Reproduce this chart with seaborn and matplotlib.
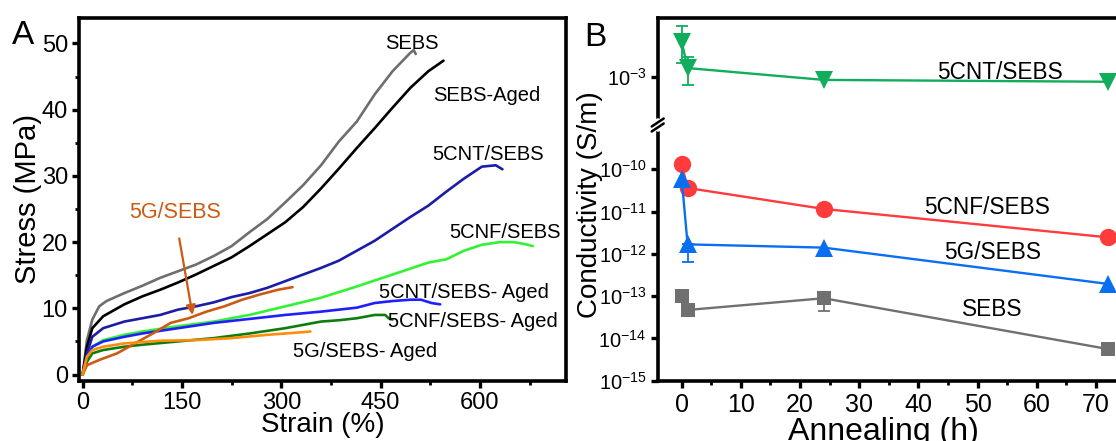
import numpy as np
import pandas as pd
import matplotlib
matplotlib.use("Agg")
import matplotlib.pyplot as plt
import seaborn as sns
from matplotlib.ticker import MultipleLocator, FixedLocator, NullLocator
from matplotlib.lines import Line2D

sns.set_theme(style="ticks")
plt.rcParams["font.family"] = ["Liberation Sans", "DejaVu Sans"]
plt.rcParams["mathtext.fontset"] = "custom"
plt.rcParams["mathtext.rm"] = "Liberation Sans"
plt.rcParams["mathtext.it"] = "Liberation Sans:italic"
plt.rcParams["mathtext.bf"] = "Liberation Sans:bold"
for key in ("text.color", "axes.labelcolor", "xtick.color", "ytick.color", "axes.edgecolor"):
    plt.rcParams[key] = "black"

# ---------------- Panel A: stress-strain curves ----------------
sebs_strain = [0, 6.5, 14.6, 25, 36, 63, 90, 117, 144, 171, 198, 225, 252, 279, 306, 333, 360, 387, 414, 441, 468, 495, 500, 503]
sebs_stress = [0, 5.2, 8.3, 10.3, 11.1, 12.3, 13.4, 14.6, 15.6, 16.6, 17.9, 19.4, 21.5, 23.5, 26.0, 28.6, 31.6, 35.2, 38.2, 42.3, 45.8, 48.6, 49.0, 48.4]

sebs_aged_strain = [0, 6.5, 14.6, 31, 63, 90, 117, 144, 171, 198, 225, 252, 279, 306, 333, 360, 387, 414, 441, 468, 495, 522, 545]
sebs_aged_stress = [0, 4.2, 7.0, 8.8, 10.6, 11.8, 12.8, 13.9, 15.1, 16.4, 17.7, 19.4, 21.2, 23.0, 25.3, 28.1, 31.1, 34.2, 37.2, 40.3, 43.3, 45.8, 47.4]

cnt_strain = [0, 6.5, 14.6, 31, 63, 90, 117, 144, 171, 198, 225, 252, 279, 306, 333, 360, 387, 414, 441, 468, 495, 522, 549, 576, 603, 624, 634]
cnt_stress = [0, 3.2, 5.7, 7.0, 8.0, 8.5, 9.0, 9.8, 10.3, 10.9, 11.7, 12.3, 13.1, 14.1, 15.1, 16.1, 17.2, 18.7, 20.2, 22.0, 23.8, 25.5, 27.6, 29.6, 31.4, 31.6, 31.0]

cnf_strain = [0, 6.5, 14.6, 31, 63, 90, 144, 198, 252, 306, 360, 414, 468, 522, 549, 576, 603, 630, 651, 668, 680]
cnf_stress = [0, 2.4, 4.2, 5.2, 6.0, 6.5, 7.3, 8.0, 9.0, 10.3, 11.6, 13.3, 15.1, 16.9, 17.4, 18.7, 19.6, 20.0, 20.0, 19.7, 19.4]

cnt_aged_strain = [0, 6.5, 14.6, 31, 63, 90, 144, 198, 252, 306, 360, 414, 441, 468, 495, 511, 527, 540]
cnt_aged_stress = [0, 2.7, 4.2, 5.0, 5.7, 6.2, 7.0, 7.8, 8.4, 9.0, 9.5, 10.1, 10.8, 11.1, 11.3, 11.3, 10.8, 10.6]

cnf_aged_strain = [0, 6.5, 14.6, 31, 63, 90, 144, 198, 252, 306, 360, 387, 414, 441, 457, 462, 468]
cnf_aged_stress = [0, 1.9, 3.2, 3.7, 4.2, 4.5, 5.0, 5.5, 6.2, 7.0, 8.0, 8.2, 8.5, 9.0, 9.0, 8.5, 8.3]

g_strain = [0, 6.5, 25, 52, 79, 106, 133, 160, 187, 214, 241, 268, 295, 317]
g_stress = [0, 1.4, 2.2, 3.2, 4.7, 6.2, 7.8, 8.5, 9.5, 10.3, 11.3, 12.1, 12.8, 13.2]

g_aged_strain = [0, 6.5, 14.6, 31, 63, 117, 171, 225, 279, 333, 344]
g_aged_stress = [0, 2.7, 3.7, 4.2, 4.7, 5.1, 5.2, 5.5, 6.0, 6.4, 6.5]

curves = [
    ("SEBS", sebs_strain, sebs_stress, "#6e6e6e"),
    ("SEBS-Aged", sebs_aged_strain, sebs_aged_stress, "#000000"),
    ("5CNT/SEBS", cnt_strain, cnt_stress, "#1c1ca6"),
    ("5CNF/SEBS", cnf_strain, cnf_stress, "#33f233"),
    ("5CNT/SEBS- Aged", cnt_aged_strain, cnt_aged_stress, "#1f1fff"),
    ("5CNF/SEBS- Aged", cnf_aged_strain, cnf_aged_stress, "#0e7d0e"),
    ("5G/SEBS", g_strain, g_stress, "#cc5a14"),
    ("5G/SEBS- Aged", g_aged_strain, g_aged_stress, "#ff8c0a"),
]

# label positions (strain, stress) for the curve names
label_pos = {
    "SEBS": (498, 50.0),
    "SEBS-Aged": (610, 42.2),
    "5CNT/SEBS": (612, 33.2),
    "5CNF/SEBS": (638, 21.5),
    "5CNT/SEBS- Aged": (576, 12.4),
    "5CNF/SEBS- Aged": (590, 8.0),
    "5G/SEBS- Aged": (426, 3.5),
}

# ---------------- Panel B: conductivity vs annealing ----------------
anneal_h = [0, 1, 24, 72]
cond_cnt = [6.7e-3, 1.6e-3, 8.4e-4, 7.6e-4]
cond_cnf = [1.3e-10, 3.6e-11, 1.15e-11, 2.45e-12]
cond_g = [6.0e-11, 1.67e-12, 1.4e-12, 1.94e-13]
cond_sebs = [1.0e-13, 4.7e-14, 8.9e-14, 5.6e-15]
# error bar extents (low, high) per point; None where no bar is drawn
err_cnt = [(2.1e-3, 1.58e-2), (6.4e-4, 3.0e-3), None, None]
err_g = [None, (6.5e-13, 1.67e-12), None, None]
err_sebs = [None, None, (4.5e-14, 8.9e-14), None]

W, H = 1116, 441
fig = plt.figure(figsize=(W / 100, H / 100), dpi=100)

def frac(x0, y0, x1, y1):
    return [x0 / W, (H - y1) / H, (x1 - x0) / W, (y1 - y0) / H]

spine_w = 2.6

axA = fig.add_axes(frac(79, 18.3, 566, 380.5))
for name, xs, ys, col in curves:
    df = pd.DataFrame({"strain": xs, "stress": ys})
    sns.lineplot(data=df, x="strain", y="stress", sort=False, color=col,
                 linewidth=1.9, ax=axA, estimator=None)
axA.set_xlim(-5.5, 730)
axA.set_ylim(-0.9, 53.8)
axA.xaxis.set_major_locator(MultipleLocator(150))
axA.xaxis.set_minor_locator(MultipleLocator(75))
axA.yaxis.set_major_locator(MultipleLocator(10))
axA.yaxis.set_minor_locator(MultipleLocator(5))
axA.tick_params(which="major", direction="out", length=5, width=2.4, labelsize=17, pad=3)
axA.tick_params(which="minor", direction="out", length=3, width=2.0)
for s in axA.spines.values():
    s.set_linewidth(spine_w)
axA.set_xlabel("Strain (%)", fontsize=20, labelpad=-1)
axA.set_ylabel("Stress (MPa)", fontsize=21, labelpad=0)

for name, (sx, sy) in label_pos.items():
    axA.text(sx, sy, name, fontsize=14.5, ha="center", va="center")
axA.annotate("5G/SEBS", xy=(166, 9.0), xytext=(139, 24.5), fontsize=15.5,
             color="#cc5a14", ha="center", va="center",
             arrowprops=dict(arrowstyle="-|>", color="#cc5a14", lw=1.6,
                             mutation_scale=14, shrinkA=9, shrinkB=0))
fig.text(23 / W, 1 - 36 / H, "A", fontsize=24, ha="center", va="center")

# Panel B split into a lower and an upper log axis with a break between them
break_y = 125
axL = fig.add_axes(frac(657.7, break_y, 657.7 + 80 * 5.92, 380.7))
axU = fig.add_axes(frac(657.7, 18.3, 657.7 + 80 * 5.92, break_y))

series_b = [
    (cond_cnt, "v", "#10ad5c", 13, err_cnt),
    (cond_cnf, "o", "#ff3b3b", 12.5, None),
    (cond_g, "^", "#0a6ef0", 13, err_g),
    (cond_sebs, "s", "#707070", 10.5, err_sebs),
]
for ax in (axL, axU):
    for vals, mk, col, ms, errs in series_b:
        df = pd.DataFrame({"h": anneal_h, "c": vals})
        sns.lineplot(data=df, x="h", y="c", ax=ax, color=col, linewidth=1.7,
                     marker=mk, markersize=ms, markeredgewidth=0, sort=False,
                     estimator=None)
        if errs is not None:
            for h, v, e in zip(anneal_h, vals, errs):
                if e is None:
                    continue
                ax.errorbar([h], [v], yerr=[[v - e[0]], [e[1] - v]], fmt="none",
                            ecolor=col, elinewidth=1.3, capsize=4, capthick=1.3)
    ax.set_yscale("log")
    ax.set_xlim(-4.05, 75.95)
    ax.set_xlabel("")
    ax.set_ylabel("")
    ax.spines["right"].set_visible(False)
    for s in ax.spines.values():
        s.set_linewidth(spine_w)

lower_lim = (1e-15, 10 ** (-15 + (380.7 - break_y) / 42.3))
upper_lim = (10 ** (-3 - (break_y - 76.7) / 42.3), 10 ** (-3 + (76.7 - 18.3) / 42.3))
axL.set_ylim(*lower_lim)
axU.set_ylim(*upper_lim)

lower_ticks = [1e-15, 1e-14, 1e-13, 1e-12, 1e-11, 1e-10]
axL.yaxis.set_major_locator(FixedLocator(lower_ticks))
axL.set_yticklabels([r"$10^{%d}$" % int(np.log10(t)) for t in lower_ticks])
axL.yaxis.set_minor_locator(NullLocator())
axU.yaxis.set_major_locator(FixedLocator([1e-3]))
axU.set_yticklabels([r"$10^{-3}$"])
axU.yaxis.set_minor_locator(NullLocator())

axL.spines["top"].set_visible(False)
axU.spines["bottom"].set_visible(False)
axU.tick_params(axis="x", which="both", bottom=False, labelbottom=False)
axL.xaxis.set_major_locator(MultipleLocator(10))
axL.xaxis.set_minor_locator(MultipleLocator(5))
for ax in (axL, axU):
    ax.tick_params(axis="y", which="major", direction="out", length=5, width=2.4, labelsize=14.5, pad=3)
axL.tick_params(axis="x", which="major", direction="out", length=5, width=2.4, labelsize=18, pad=4)
axL.tick_params(axis="x", which="minor", direction="out", length=3, width=2.0)

fig.text(883 / W, 1 - 432 / H, "Annealing (h)", fontsize=23, ha="center", va="center")
fig.text(590 / W, 1 - 205 / H, "Conductivity (S/m)", fontsize=20, ha="center",
         va="center", rotation=90)
fig.text(595 / W, 1 - 37 / H, "B", fontsize=24, ha="center", va="center")

# series names in panel B (annealing h, conductivity)
axU.text(53.8, 1.25e-3, "5CNT/SEBS", fontsize=16.3, ha="center", va="center")
axL.text(51.6, 1.25e-11, "5CNF/SEBS", fontsize=16.3, ha="center", va="center")
axL.text(52.6, 1.1e-12, "5G/SEBS", fontsize=16.3, ha="center", va="center")
axL.text(52.4, 4.8e-14, "SEBS", fontsize=16.3, ha="center", va="center")

# axis break marks on the left spine
bx = 657.7 / W
by = 1 - break_y / H
fig.add_artist(Line2D([bx, bx], [by - 4 / H, by + 4 / H], color="white", lw=4,
                      transform=fig.transFigure))
for dy in (-2.5, 2.5):
    fig.add_artist(Line2D([bx - 6 / W, bx + 6 / W], [by + dy / H - 4 / H, by + dy / H + 4 / H],
                          color="black", lw=1.8, transform=fig.transFigure))

fig.savefig("out.png", dpi=100)
